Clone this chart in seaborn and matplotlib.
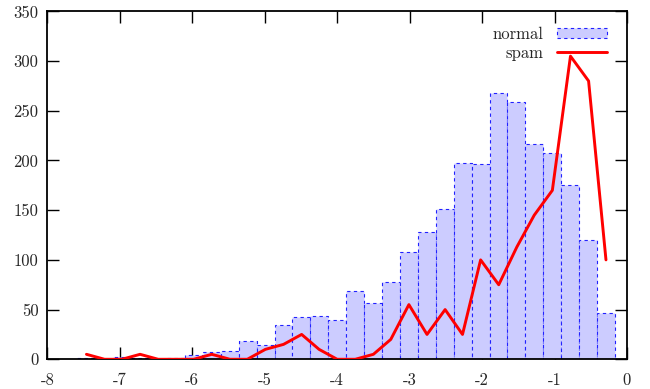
import numpy as np
import pandas as pd
import matplotlib
matplotlib.use("Agg")
import matplotlib.pyplot as plt
import seaborn as sns
from matplotlib.patches import Patch
from matplotlib.lines import Line2D

# ---- data ----
centers = [-7.46, -7.21, -6.97, -6.72, -6.47, -6.23, -5.98, -5.73, -5.48, -5.24,
           -4.99, -4.74, -4.49, -4.25, -4.00, -3.75, -3.50, -3.26, -3.01, -2.76,
           -2.51, -2.27, -2.02, -1.77, -1.52, -1.28, -1.03, -0.78, -0.53, -0.29]
normal = [1, 0, 2, 1, 0, 1, 4, 7, 8, 18,
          14, 34, 43, 44, 40, 69, 57, 78, 108, 128,
          151, 197, 196, 268, 259, 217, 208, 175, 120, 47]
spam = [5, 0, 0, 5, 0, 0, 0, 5, 0, 0,
        10, 15, 25, 10, 0, 0, 5, 20, 55, 25,
        50, 25, 100, 75, 113, 145, 170, 305, 280, 100]
bin_width = 0.2475
x_ticks = [-8, -7, -6, -5, -4, -3, -2, -1, 0]
y_ticks = [0, 50, 100, 150, 200, 250, 300, 350]
series_labels = ["normal", "spam"]

df = pd.DataFrame({"x": centers, "normal": normal, "spam": spam})
bin_lo = float(centers[0] - bin_width / 2)
bin_hi = float(centers[-1] + bin_width / 2)

sns.set_style("ticks")
plt.rcParams["font.family"] = ["cmr10", "DejaVu Serif"]
plt.rcParams["axes.unicode_minus"] = False
plt.rcParams["axes.formatter.use_mathtext"] = False
plt.rcParams["mathtext.fontset"] = "cm"

fig = plt.figure(figsize=(6.5, 3.89), dpi=100)
ax = fig.add_axes([0.0728, 0.0764, 0.8918, 0.8943])

sns.histplot(data=df, x="x", weights="normal", bins=len(centers),
             binrange=(bin_lo, bin_hi), ax=ax,
             color="#ccccff", edgecolor="#2222ff", linestyle=(0, (3, 3)),
             linewidth=0.8, alpha=1.0, stat="count")
sns.lineplot(data=df, x="x", y="spam", ax=ax, color="#ff0000",
             linewidth=2.1, zorder=5)

ax.set_xlim(-8, 0)
ax.set_ylim(0, 350)
ax.set_xticks(x_ticks)
ax.set_yticks(y_ticks)
ax.set_xlabel("")
ax.set_ylabel("")
ax.tick_params(direction="in", length=8.5, width=1.0, top=True, right=True,
               labelsize=12, color="black")
ax.tick_params(axis="x", pad=10)
ax.tick_params(axis="y", pad=6.5)
for s in ax.spines.values():
    s.set_linewidth(1.3)
    s.set_color("black")

handles = [Patch(facecolor="#ccccff", edgecolor="#2222ff",
                 linestyle=(0, (3, 3)), linewidth=0.8),
           Line2D([], [], color="#ff0000", linewidth=2.1)]
leg = ax.legend(handles, series_labels, loc="upper right", frameon=False,
                markerfirst=False, handlelength=3.0, handleheight=0.6,
                fontsize=12, labelspacing=0.2, handletextpad=0.8,
                bbox_to_anchor=(0.985, 0.99), borderaxespad=0.3)
for t in leg.get_texts():
    t.set_ha("right")

fig.savefig("out.png", dpi=100)
